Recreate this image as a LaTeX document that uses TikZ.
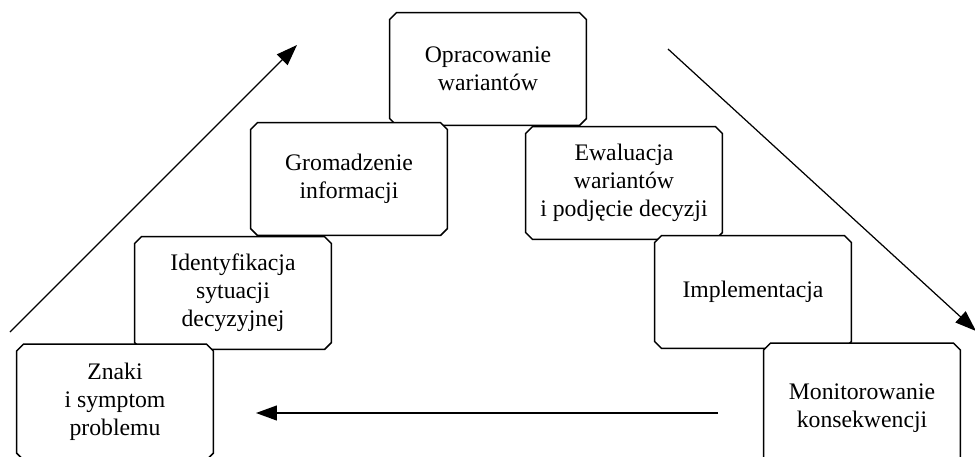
\documentclass[tikz,border=0pt]{standalone}
\usepackage{fontspec}
\setmainfont{Liberation Serif}
\usetikzlibrary{shapes.misc}
\usetikzlibrary{arrows.meta}

\tikzset{
  krok/.style={chamfered rectangle, chamfered rectangle xsep=2pt,
    chamfered rectangle ysep=2pt, draw, line width=0.85pt, fill=white,
    minimum width=3.94cm, minimum height=2.26cm, inner sep=0pt,
    align=center, font=\fontsize{13.5}{16}\selectfont},
  strz/.style={line width=0.7pt, -{Triangle[length=0.42cm, width=0.3cm]}}
}

\begin{document}
\begin{tikzpicture}[x=0.02cm,y=-0.02cm]
        \useasboundingbox (0,0) rectangle (975,457);
        % kroki procesu
        \node[krok] (oprac) at (488,69) {Opracowanie\\wariantów};
        \node[krok] (groma) at (349,179) {Gromadzenie\\informacji};
        \node[krok] (ewal) at (624,183) {Ewaluacja\\wariantów\\i podjęcie decyzji};
        \node[krok] (ident) at (233,293) {Identyfikacja\\sytuacji\\decyzyjnej};
        \node[krok] (impl) at (753,292) {Implementacja};
        \node[krok, minimum height=2.32cm] (znaki) at (115,402) {Znaki\\i symptom\\problemu};
        \node[krok, minimum height=2.6cm] (monit) at (862,408) {Monitorowanie\\konsekwencji};
        % strzalki
        \coordinate (a1) at (10,332);
        \coordinate (a2) at (297,45);
        \coordinate (b1) at (668,49);
        \coordinate (b2) at (976,331);
        \coordinate (c1) at (718,413);
        \coordinate (c2) at (256,413);
        \draw[strz] (a1)--(a2);
        \draw[strz] (b1)--(b2);
        \draw[strz] (c1)--(c2);
    \end{tikzpicture}
\end{document}
